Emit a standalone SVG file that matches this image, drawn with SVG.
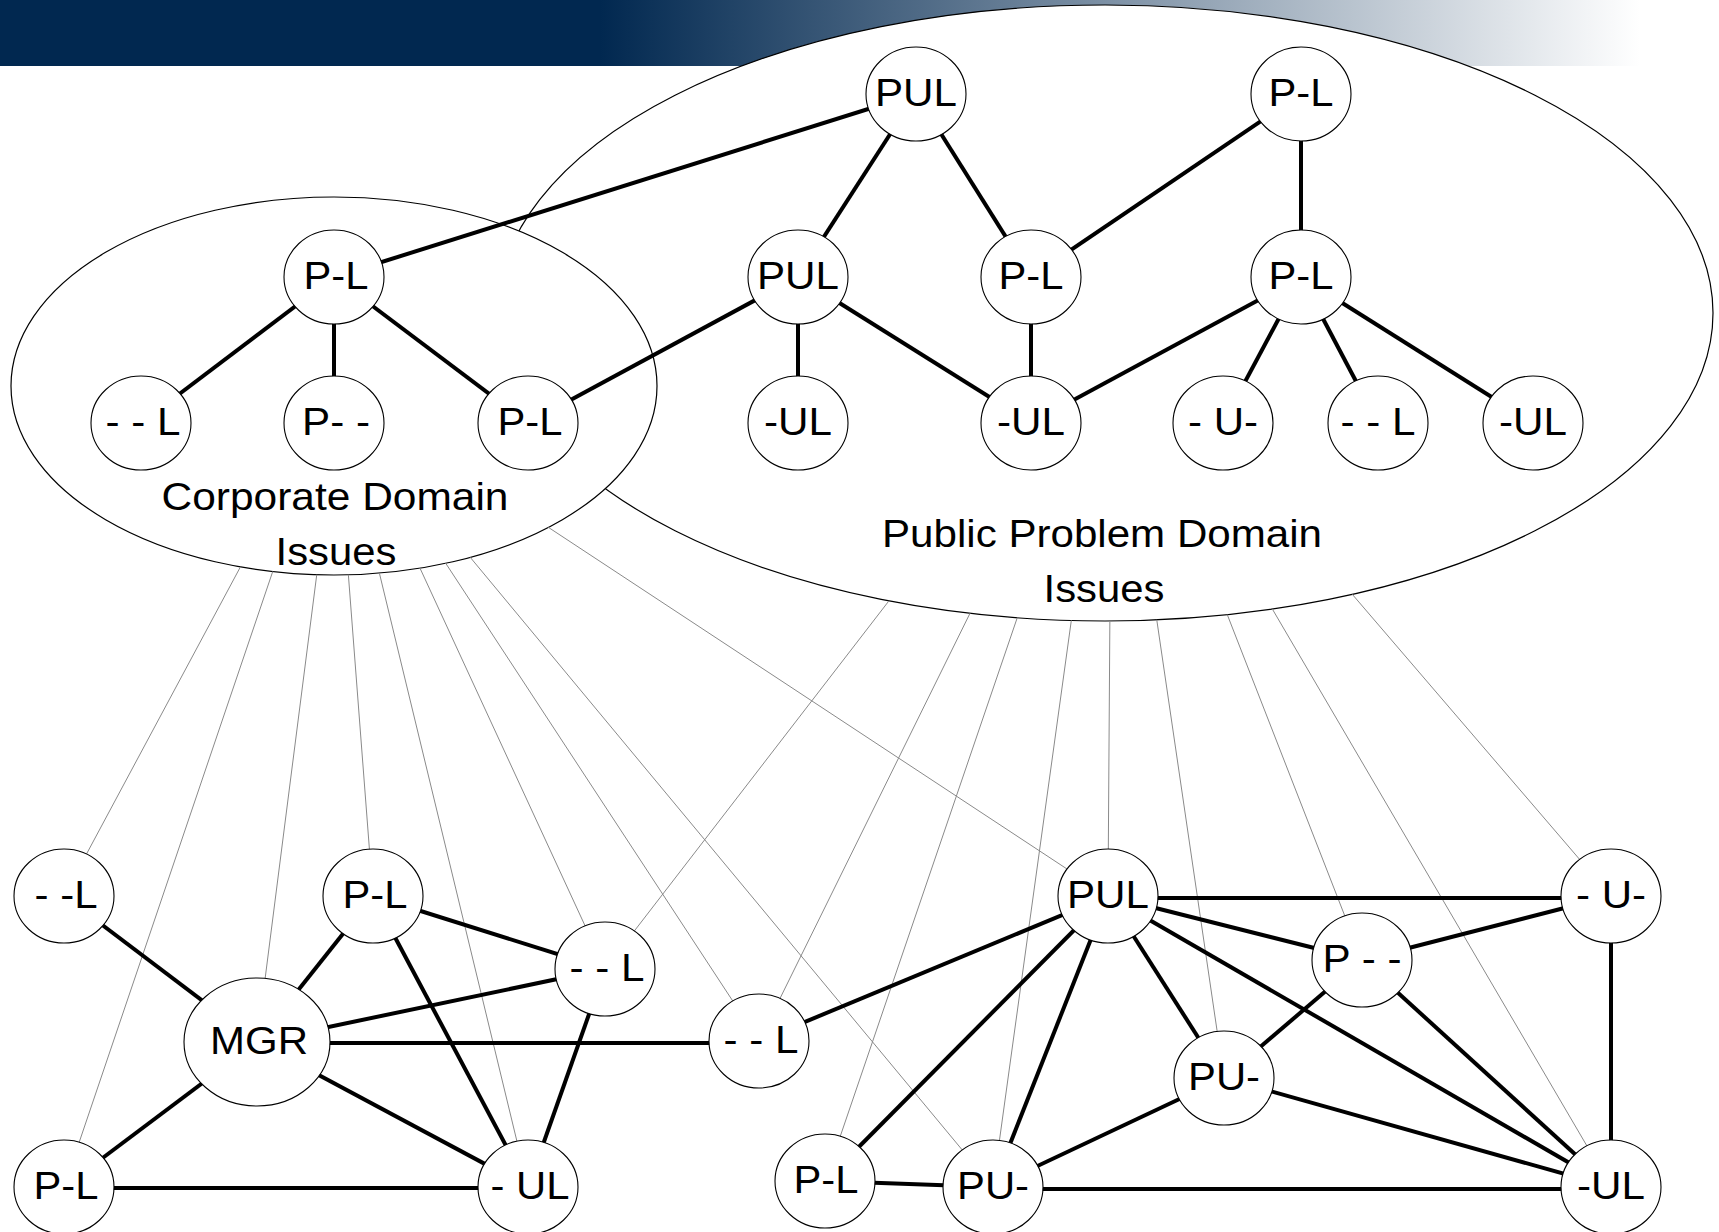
<svg xmlns="http://www.w3.org/2000/svg" width="1719" height="1232" viewBox="0 0 1719 1232">
<style>
.dom{fill:#ffffff;stroke:#000000;stroke-width:1.2}
.nd{fill:#ffffff;stroke:#000000;stroke-width:1.1}
.lb{font-family:"Liberation Sans",Arial,sans-serif;font-size:39px;fill:#000000;text-anchor:middle}
.dl{font-family:"Liberation Sans",Arial,sans-serif;font-size:39px;fill:#000000;text-anchor:middle}
.thin{stroke:#8a8a8a;stroke-width:1;fill:none}
.thick{stroke:#000000;stroke-width:4;fill:none}
</style>
<defs>
<linearGradient id="hdr" gradientUnits="userSpaceOnUse" x1="600" y1="0" x2="1640" y2="0">
<stop offset="0" stop-color="#012850"/>
<stop offset="1" stop-color="#ffffff"/>
</linearGradient>
<mask id="outside" maskUnits="userSpaceOnUse" x="0" y="0" width="1719" height="1232">
<rect x="0" y="0" width="1719" height="1232" fill="#ffffff"/>
<ellipse cx="1105" cy="313" rx="608" ry="308" fill="#000000"/>
<ellipse cx="334" cy="386" rx="323" ry="189" fill="#000000"/>
</mask>
</defs>
<rect id="header" x="0" y="0" width="1719" height="66" fill="url(#hdr)"/>
<g id="domain-public">
<ellipse class="dom" cx="1105" cy="313" rx="608" ry="308"/>
<text class="dl" x="1102" y="547" textLength="440" lengthAdjust="spacingAndGlyphs">Public Problem Domain</text>
<text class="dl" x="1104" y="602" textLength="121" lengthAdjust="spacingAndGlyphs">Issues</text>
</g>
<g id="domain-corporate">
<ellipse class="dom" cx="334" cy="386" rx="323" ry="189"/>
<text class="dl" x="335" y="510" textLength="347" lengthAdjust="spacingAndGlyphs">Corporate Domain</text>
<text class="dl" x="336" y="565" textLength="121" lengthAdjust="spacingAndGlyphs">Issues</text>
</g>
<g id="connectors">
<g id="mapping-links" mask="url(#outside)">
<line class="thin" x1="250" y1="549" x2="64" y2="896"/>
<line class="thin" x1="279" y1="553" x2="64" y2="1187"/>
<line class="thin" x1="319" y1="557" x2="257" y2="1042"/>
<line class="thin" x1="347" y1="557" x2="373" y2="896"/>
<line class="thin" x1="375" y1="555" x2="528" y2="1187"/>
<line class="thin" x1="413" y1="553" x2="605" y2="969"/>
<line class="thin" x1="437" y1="550" x2="759" y2="1041"/>
<line class="thin" x1="460" y1="545" x2="993" y2="1187"/>
<line class="thin" x1="519" y1="508" x2="1108" y2="896"/>
<line class="thin" x1="905" y1="580" x2="605" y2="969"/>
<line class="thin" x1="980" y1="593" x2="759" y2="1041"/>
<line class="thin" x1="1025" y1="595" x2="825" y2="1181"/>
<line class="thin" x1="1074" y1="601" x2="993" y2="1187"/>
<line class="thin" x1="1110" y1="600" x2="1108" y2="896"/>
<line class="thin" x1="1154" y1="601" x2="1224" y2="1078"/>
<line class="thin" x1="1220" y1="596" x2="1362" y2="960"/>
<line class="thin" x1="1260" y1="588" x2="1611" y2="1187"/>
<line class="thin" x1="1334" y1="573" x2="1611" y2="896"/>
</g>
<g id="issue-links">
<line class="thick" x1="916" y1="94" x2="334" y2="277"/>
<line class="thick" x1="916" y1="94" x2="798" y2="277"/>
<line class="thick" x1="916" y1="94" x2="1031" y2="277"/>
<line class="thick" x1="1301" y1="94" x2="1031" y2="277"/>
<line class="thick" x1="1301" y1="94" x2="1301" y2="277"/>
<line class="thick" x1="334" y1="277" x2="141" y2="423"/>
<line class="thick" x1="334" y1="277" x2="334" y2="423"/>
<line class="thick" x1="334" y1="277" x2="528" y2="423"/>
<line class="thick" x1="798" y1="277" x2="528" y2="423"/>
<line class="thick" x1="798" y1="277" x2="798" y2="423"/>
<line class="thick" x1="798" y1="277" x2="1031" y2="423"/>
<line class="thick" x1="1031" y1="277" x2="1031" y2="423"/>
<line class="thick" x1="1301" y1="277" x2="1031" y2="423"/>
<line class="thick" x1="1301" y1="277" x2="1223" y2="423"/>
<line class="thick" x1="1301" y1="277" x2="1378" y2="423"/>
<line class="thick" x1="1301" y1="277" x2="1533" y2="423"/>
<line class="thick" x1="64" y1="896" x2="257" y2="1042"/>
<line class="thick" x1="373" y1="896" x2="257" y2="1042"/>
<line class="thick" x1="373" y1="896" x2="605" y2="969"/>
<line class="thick" x1="373" y1="896" x2="528" y2="1187"/>
<line class="thick" x1="257" y1="1042" x2="605" y2="969"/>
<line class="thick" x1="257" y1="1043" x2="759" y2="1043"/>
<line class="thick" x1="257" y1="1042" x2="64" y2="1187"/>
<line class="thick" x1="257" y1="1042" x2="528" y2="1187"/>
<line class="thick" x1="64" y1="1188" x2="528" y2="1188"/>
<line class="thick" x1="605" y1="969" x2="528" y2="1187"/>
<line class="thick" x1="759" y1="1041" x2="1108" y2="896"/>
<line class="thick" x1="1108" y1="898" x2="1611" y2="898"/>
<line class="thick" x1="1108" y1="896" x2="1362" y2="960"/>
<line class="thick" x1="1108" y1="896" x2="1224" y2="1078"/>
<line class="thick" x1="1108" y1="896" x2="1611" y2="1187"/>
<line class="thick" x1="1108" y1="896" x2="825" y2="1181"/>
<line class="thick" x1="1108" y1="896" x2="993" y2="1187"/>
<line class="thick" x1="1362" y1="960" x2="1611" y2="896"/>
<line class="thick" x1="1362" y1="960" x2="1224" y2="1078"/>
<line class="thick" x1="1362" y1="960" x2="1611" y2="1187"/>
<line class="thick" x1="1611" y1="896" x2="1611" y2="1187"/>
<line class="thick" x1="1224" y1="1078" x2="1611" y2="1187"/>
<line class="thick" x1="1224" y1="1078" x2="993" y2="1187"/>
<line class="thick" x1="825" y1="1181" x2="993" y2="1187"/>
<line class="thick" x1="993" y1="1189" x2="1611" y2="1189"/>
</g>
</g>
<g id="n1"><ellipse class="nd" cx="916" cy="94" rx="50" ry="47"/><text class="lb" x="916" y="105.5" textLength="82" lengthAdjust="spacingAndGlyphs">PUL</text></g>
<g id="n2"><ellipse class="nd" cx="1301" cy="94" rx="50" ry="47"/><text class="lb" x="1301" y="105.5" textLength="65" lengthAdjust="spacingAndGlyphs">P-L</text></g>
<g id="n3"><ellipse class="nd" cx="798" cy="277" rx="50" ry="47"/><text class="lb" x="798" y="288.5" textLength="82" lengthAdjust="spacingAndGlyphs">PUL</text></g>
<g id="n4"><ellipse class="nd" cx="1031" cy="277" rx="50" ry="47"/><text class="lb" x="1031" y="288.5" textLength="65" lengthAdjust="spacingAndGlyphs">P-L</text></g>
<g id="n5"><ellipse class="nd" cx="1301" cy="277" rx="50" ry="47"/><text class="lb" x="1301" y="288.5" textLength="65" lengthAdjust="spacingAndGlyphs">P-L</text></g>
<g id="n6"><ellipse class="nd" cx="798" cy="423" rx="50" ry="47"/><text class="lb" x="798" y="434.5" textLength="68" lengthAdjust="spacingAndGlyphs">-UL</text></g>
<g id="n7"><ellipse class="nd" cx="1031" cy="423" rx="50" ry="47"/><text class="lb" x="1031" y="434.5" textLength="68" lengthAdjust="spacingAndGlyphs">-UL</text></g>
<g id="n8"><ellipse class="nd" cx="1223" cy="423" rx="50" ry="47"/><text class="lb" x="1223" y="434.5" textLength="70" lengthAdjust="spacingAndGlyphs">- U-</text></g>
<g id="n9"><ellipse class="nd" cx="1378" cy="423" rx="50" ry="47"/><text class="lb" x="1378" y="434.5" textLength="75" lengthAdjust="spacingAndGlyphs">- - L</text></g>
<g id="n10"><ellipse class="nd" cx="1533" cy="423" rx="50" ry="47"/><text class="lb" x="1533" y="434.5" textLength="68" lengthAdjust="spacingAndGlyphs">-UL</text></g>
<g id="c1"><ellipse class="nd" cx="334" cy="277" rx="50" ry="47"/><text class="lb" x="336" y="288.5" textLength="65" lengthAdjust="spacingAndGlyphs">P-L</text></g>
<g id="c2"><ellipse class="nd" cx="141" cy="423" rx="50" ry="47"/><text class="lb" x="143" y="434.5" textLength="75" lengthAdjust="spacingAndGlyphs">- - L</text></g>
<g id="c3"><ellipse class="nd" cx="334" cy="423" rx="50" ry="47"/><text class="lb" x="336" y="434.5" textLength="68" lengthAdjust="spacingAndGlyphs">P- -</text></g>
<g id="c4"><ellipse class="nd" cx="528" cy="423" rx="50" ry="47"/><text class="lb" x="530" y="434.5" textLength="65" lengthAdjust="spacingAndGlyphs">P-L</text></g>
<g id="b1"><ellipse class="nd" cx="64" cy="896" rx="50" ry="47"/><text class="lb" x="66" y="907.5" textLength="63" lengthAdjust="spacingAndGlyphs">- -L</text></g>
<g id="b2"><ellipse class="nd" cx="373" cy="896" rx="50" ry="47"/><text class="lb" x="375" y="907.5" textLength="65" lengthAdjust="spacingAndGlyphs">P-L</text></g>
<g id="b3"><ellipse class="nd" cx="605" cy="969" rx="50" ry="47"/><text class="lb" x="607" y="980.5" textLength="75" lengthAdjust="spacingAndGlyphs">- - L</text></g>
<g id="b4"><ellipse class="nd" cx="257" cy="1042" rx="73" ry="64"/><text class="lb" x="259" y="1053.5" textLength="98" lengthAdjust="spacingAndGlyphs">MGR</text></g>
<g id="b5"><ellipse class="nd" cx="64" cy="1187" rx="50" ry="47"/><text class="lb" x="66" y="1198.5" textLength="65" lengthAdjust="spacingAndGlyphs">P-L</text></g>
<g id="b6"><ellipse class="nd" cx="528" cy="1187" rx="50" ry="47"/><text class="lb" x="530" y="1198.5" textLength="79" lengthAdjust="spacingAndGlyphs">- UL</text></g>
<g id="m1"><ellipse class="nd" cx="759" cy="1041" rx="50" ry="47"/><text class="lb" x="761" y="1052.5" textLength="75" lengthAdjust="spacingAndGlyphs">- - L</text></g>
<g id="r1"><ellipse class="nd" cx="1108" cy="896" rx="50" ry="47"/><text class="lb" x="1108" y="907.5" textLength="82" lengthAdjust="spacingAndGlyphs">PUL</text></g>
<g id="r2"><ellipse class="nd" cx="1611" cy="896" rx="50" ry="47"/><text class="lb" x="1611" y="907.5" textLength="70" lengthAdjust="spacingAndGlyphs">- U-</text></g>
<g id="r3"><ellipse class="nd" cx="1362" cy="960" rx="50" ry="47"/><text class="lb" x="1362" y="971.5" textLength="79" lengthAdjust="spacingAndGlyphs">P - -</text></g>
<g id="r4"><ellipse class="nd" cx="1224" cy="1078" rx="50" ry="47"/><text class="lb" x="1224" y="1089.5" textLength="72" lengthAdjust="spacingAndGlyphs">PU-</text></g>
<g id="r5"><ellipse class="nd" cx="825" cy="1181" rx="50" ry="47"/><text class="lb" x="826" y="1192.5" textLength="65" lengthAdjust="spacingAndGlyphs">P-L</text></g>
<g id="r6"><ellipse class="nd" cx="993" cy="1187" rx="50" ry="47"/><text class="lb" x="993" y="1198.5" textLength="72" lengthAdjust="spacingAndGlyphs">PU-</text></g>
<g id="r7"><ellipse class="nd" cx="1611" cy="1187" rx="50" ry="47"/><text class="lb" x="1611" y="1198.5" textLength="68" lengthAdjust="spacingAndGlyphs">-UL</text></g>
</svg>
